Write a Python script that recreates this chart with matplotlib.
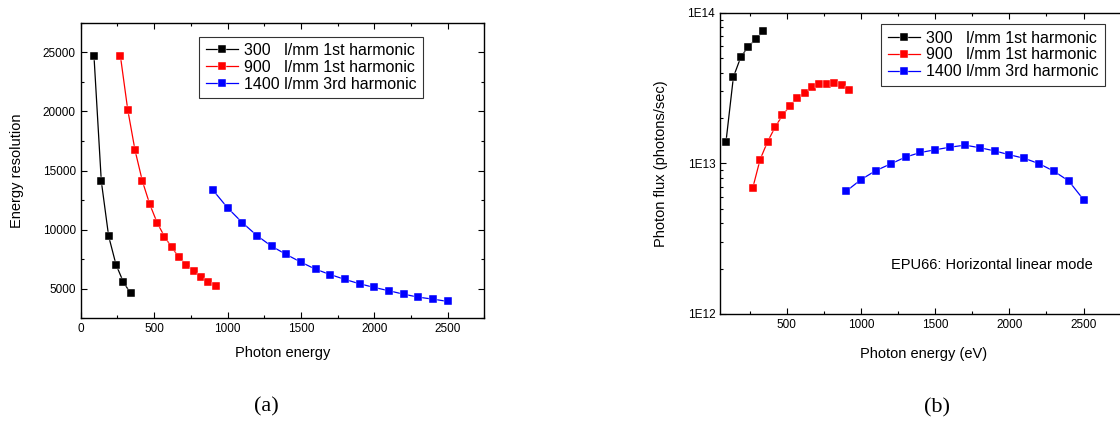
import math
import matplotlib
matplotlib.use("Agg")
import matplotlib.pyplot as plt
from matplotlib.ticker import MultipleLocator, LogLocator, FuncFormatter, NullFormatter

plt.rcParams['font.family'] = ['Liberation Sans', 'DejaVu Sans']

# photon energies (eV)
e_300 = [90, 140, 190, 240, 290, 340]
e_900 = [270, 320, 370, 420, 470, 520, 570, 620, 670, 720, 770, 820, 870, 920]
e_1400 = [900, 1000, 1100, 1200, 1300, 1400, 1500, 1600, 1700, 1800,
          1900, 2000, 2100, 2200, 2300, 2400, 2500]

# (a) energy resolution
res_300 = [24700, 14100, 9450, 7050, 5580, 4600]
res_900 = [24700, 20150, 16700, 14100, 12150, 10600, 9420, 8500, 7650,
           7030, 6460, 5960, 5560, 5200]
res_1400 = [13350, 11850, 10600, 9500, 8600, 7900, 7250, 6650, 6200, 5790,
            5420, 5110, 4830, 4540, 4290, 4120, 3930]

# (b) photon flux (photons/sec)
flux_300 = [1.39e13, 3.74e13, 5.08e13, 5.95e13, 6.66e13, 7.53e13]
flux_900 = [6.84e12, 1.06e13, 1.39e13, 1.73e13, 2.08e13, 2.40e13, 2.73e13,
            2.94e13, 3.20e13, 3.35e13, 3.35e13, 3.40e13, 3.31e13, 3.05e13]
flux_1400 = [6.53e12, 7.80e12, 8.95e12, 9.91e12, 1.10e13, 1.18e13, 1.23e13,
             1.28e13, 1.32e13, 1.27e13, 1.21e13, 1.14e13, 1.08e13, 9.95e12,
             8.87e12, 7.64e12, 5.74e12]

labels = ['300   l/mm 1st harmonic', '900   l/mm 1st harmonic',
          '1400 l/mm 3rd harmonic']
colors = ['black', 'red', 'blue']


def style_axes(ax):
    ax.tick_params(which='both', direction='in', top=True, right=True,
                   labelsize=8.5, width=0.8)
    ax.tick_params(which='major', length=4)
    ax.tick_params(which='minor', length=2.5)
    for s in ax.spines.values():
        s.set_linewidth(1.0)


def draw_series(ax, xs, ys, anchor):
    for x, y, c, lab in zip(xs, ys, colors, labels):
        ax.plot(x, y, color=c, lw=0.9, marker='s', ms=5.5, mfc=c,
                mec='white', mew=0.3, label=lab)
    leg = ax.legend(loc='upper left', bbox_to_anchor=anchor, fontsize=11.5,
                    frameon=True, fancybox=False, borderaxespad=0,
                    labelspacing=0.12, handlelength=2.0, handletextpad=0.4,
                    borderpad=0.4)
    leg.get_frame().set_edgecolor('black')
    leg.get_frame().set_linewidth(0.8)


fig = plt.figure(figsize=(11.2, 4.21), dpi=100)

# ---- (a) ----
ax1 = fig.add_axes([0.0721, 0.2439, 0.3604, 0.7021])
draw_series(ax1, [e_300, e_900, e_1400], [res_300, res_900, res_1400],
            (0.294, 0.953))
ax1.set_xlim(0, 2750)
ax1.set_ylim(2500, 27500)
ax1.xaxis.set_major_locator(MultipleLocator(500))
ax1.xaxis.set_minor_locator(MultipleLocator(250))
ax1.yaxis.set_major_locator(MultipleLocator(5000))
ax1.yaxis.set_minor_locator(MultipleLocator(2500))
style_axes(ax1)
ax1.set_xlabel('Photon energy', fontsize=10.5, labelpad=8)
ax1.set_ylabel('Energy resolution', fontsize=10.5, labelpad=13.5)

# ---- (b) ----
ax2 = fig.add_axes([0.6429, 0.2542, 0.3643, 0.7157])
draw_series(ax2, [e_300, e_900, e_1400], [flux_300, flux_900, flux_1400],
            (0.395, 0.962))
ax2.set_yscale('log')
ax2.set_xlim(50, 2800)
ax2.set_ylim(1e12, 1e14)
ax2.xaxis.set_major_locator(MultipleLocator(500))
ax2.xaxis.set_minor_locator(MultipleLocator(250))
ax2.yaxis.set_major_locator(LogLocator(base=10, numticks=5))
ax2.yaxis.set_minor_locator(LogLocator(base=10, subs=range(2, 10), numticks=20))
ax2.yaxis.set_major_formatter(FuncFormatter(lambda v, p: '1E%d' % round(math.log10(v))))
ax2.yaxis.set_minor_formatter(NullFormatter())
style_axes(ax2)
ax2.set_xlabel('Photon energy (eV)', fontsize=10.5, labelpad=11.5)
ax2.set_ylabel('Photon flux (photons/sec)', fontsize=10.5, labelpad=14)
ax2.text(1883, 2.12e12, 'EPU66: Horizontal linear mode', fontsize=10.5,
         ha='center', va='center')

# captions
fig.text(266 / 1120, 1 - 407 / 421, '(a)', family=['Liberation Serif'],
         fontsize=16, ha='center', va='center')
fig.text(937 / 1120, 1 - 408 / 421, '(b)', family=['Liberation Serif'],
         fontsize=16, ha='center', va='center')

fig.savefig('out.png', dpi=100)
